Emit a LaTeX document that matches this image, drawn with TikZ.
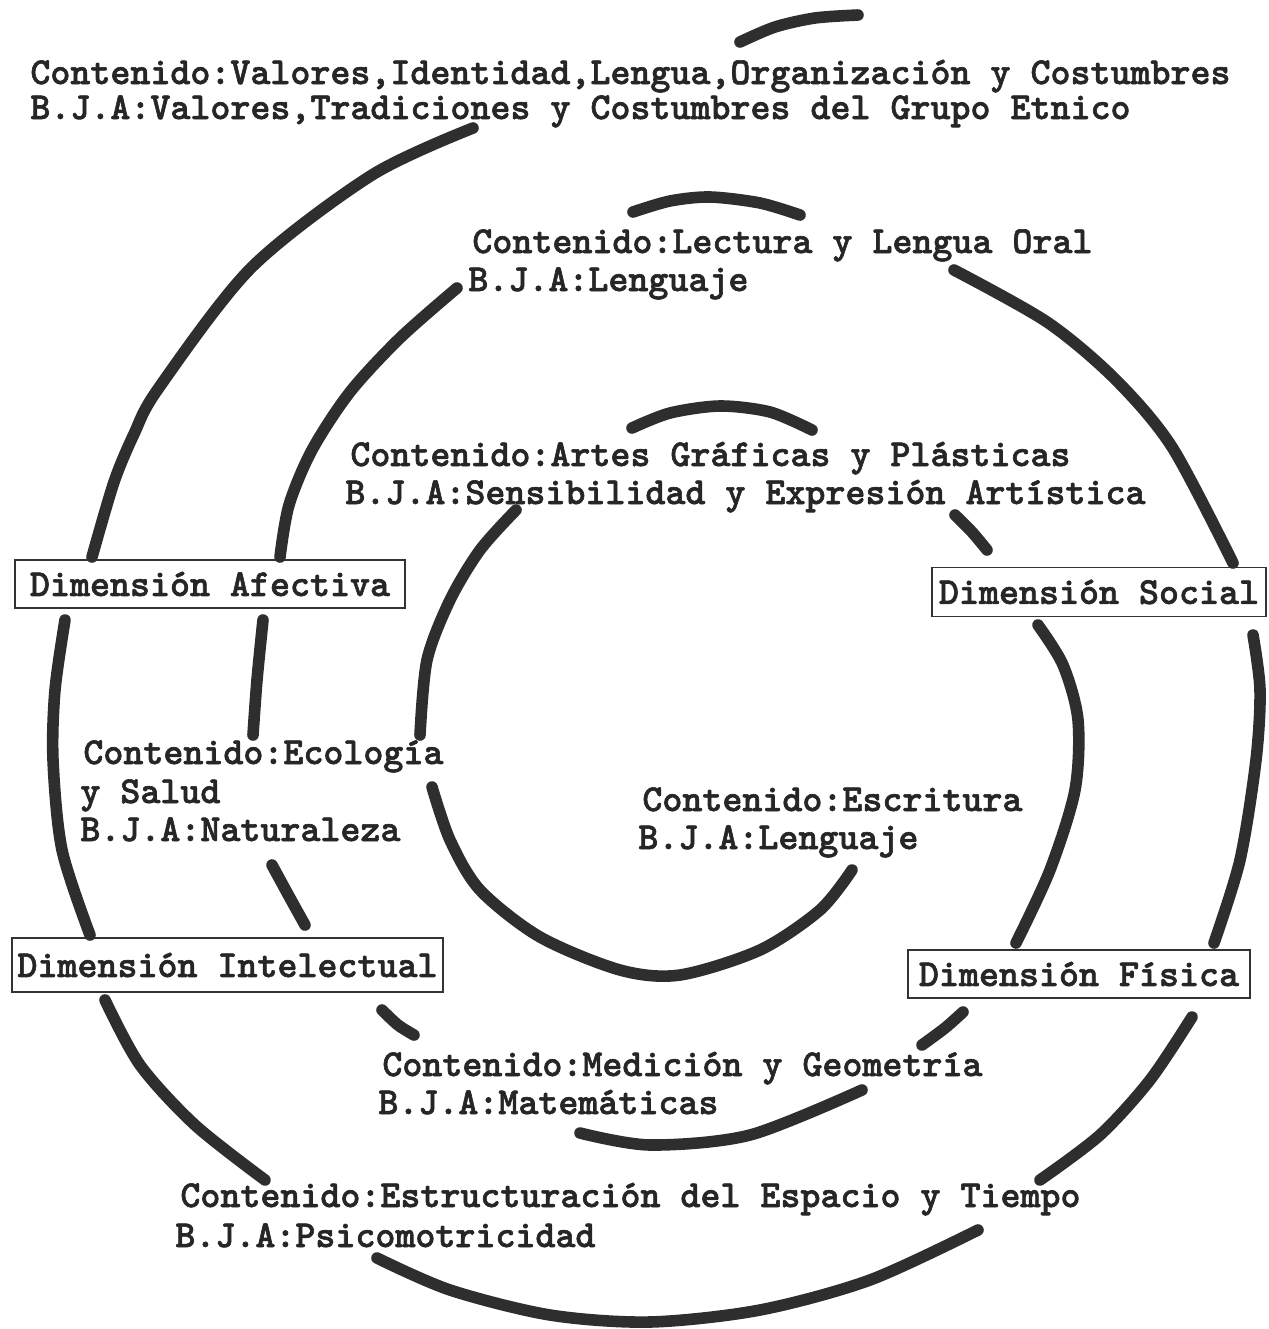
\documentclass[tikz,border=0pt]{standalone}
\usepackage{fontspec}
\newfontfamily\twfont{lmmonolt10-bold.otf}[FakeBold=1.6]
\definecolor{ink}{HTML}{262626}
\definecolor{strokec}{HTML}{2E2E2E}
\definecolor{boxc}{HTML}{333333}
\tikzset{
  txt/.style={anchor=base west, inner sep=0pt, text=ink,
    font=\twfont\fontsize{19.05pt}{20pt}\selectfont},
  dimbox/.style={draw=boxc, line width=0.8pt, inner sep=0pt, text=ink,
    font=\twfont\fontsize{19.05pt}{20pt}\selectfont},
  brush/.style={draw=strokec, line width=5.8pt, line cap=round, line join=round},
}
\begin{document}
\begin{tikzpicture}[x=0.5pt,y=-0.5pt]
\useasboundingbox (0,0) rectangle (1269,1329);

% ---- texts ----
\node[txt] (t1a) at (30,84)  {Contenido:Valores,Identidad,Lengua,Organización y Costumbres};
\node[txt] (t1b) at (30,119) {B.J.A:Valores,Tradiciones y Costumbres del Grupo Etnico};
\node[txt] (t2a) at (472,253) {Contenido:Lectura y Lengua Oral};
\node[txt] (t2b) at (468,291) {B.J.A:Lenguaje};
\node[txt] (t3a) at (350,466) {Contenido:Artes Gráficas y Plásticas};
\node[txt] (t3b) at (345,504) {B.J.A:Sensibilidad y Expresión Artística};
\node[txt] (t4a) at (83,764)  {Contenido:Ecología};
\node[txt] (t4b) at (80,803)  {y Salud};
\node[txt] (t4c) at (80,841)  {B.J.A:Naturaleza};
\node[txt] (t5a) at (642,811) {Contenido:Escritura};
\node[txt] (t5b) at (638,849) {B.J.A:Lenguaje};
\node[txt] (t6a) at (382,1076) {Contenido:Medición y Geometría};
\node[txt] (t6b) at (378,1114) {B.J.A:Matemáticas};
\node[txt] (t7a) at (180,1207) {Contenido:Estructuración del Espacio y Tiempo};
\node[txt] (t7b) at (175,1247) {B.J.A:Psicomotricidad};

% ---- dimension boxes ----
\node[dimbox, minimum width=195pt, minimum height=24pt] (afe) at (210,584) {Dimensión Afectiva};
\node[dimbox, minimum width=167pt, minimum height=24.5pt] (soc) at (1099,592) {Dimensión Social};
\node[dimbox, minimum width=215.5pt, minimum height=27pt] (int) at (227.5,965) {Dimensión Intelectual};
\node[dimbox, minimum width=171pt, minimum height=24pt] (fis) at (1079,974) {Dimensión Física};

% ---- outer spiral ----
\draw[brush] plot[smooth] coordinates {(740,42) (775,27) (815,18) (858,15)};
\draw[brush] plot[smooth] coordinates {(473,128) (372,175) (251,268) (158,389) (134,434) (114,482) (92,557)};
\draw[brush] plot[smooth] coordinates {(65,620) (55,690) (53,760) (62,850) (90,935)};
\draw[brush] plot[smooth] coordinates {(105,1000) (140,1065) (195,1125) (265,1180)};
\draw[brush] plot[smooth] coordinates {(377,1258) (450,1290) (550,1315) (650,1322) (760,1310) (870,1280) (978,1230)};
\draw[brush] plot[smooth] coordinates {(1040,1180) (1100,1135) (1150,1080) (1192,1017)};
\draw[brush] plot[smooth] coordinates {(1214,943) (1240,860) (1256,760) (1260,690) (1253,635)};
\draw[brush] plot[smooth] coordinates {(1233,563) (1172,447) (1115,379) (1047,322) (954,270)};

% ---- middle spiral ----
\draw[brush] plot[smooth] coordinates {(633,212) (670,201) (710,197) (760,203) (800,215)};
\draw[brush] plot[smooth] coordinates {(457,288) (400,338) (350,392) (312,450) (289,505) (280,557)};
\draw[brush] plot[smooth] coordinates {(263,620) (257,680) (253,735)};
\draw[brush] plot[smooth] coordinates {(272,865) (290,898) (305,925)};
\draw[brush] plot[smooth] coordinates {(382,1010) (398,1025) (414,1035)};
\draw[brush] plot[smooth] coordinates {(580,1133) (650,1145) (750,1135) (862,1090)};
\draw[brush] plot[smooth] coordinates {(922,1045) (945,1028) (963,1012)};
\draw[brush] plot[smooth] coordinates {(1016,943) (1050,870) (1075,790) (1078,720) (1063,665) (1038,625)};
\draw[brush] plot[smooth] coordinates {(955,515) (972,532) (987,550)};

% ---- inner spiral ----
\draw[brush] plot[smooth] coordinates {(632,428) (670,413) (720,406) (770,412) (812,430)};
\draw[brush] plot[smooth] coordinates {(516,510) (480,550) (450,600) (427,660) (420,735)};
\draw[brush] plot[smooth] coordinates {(432,787) (450,840) (480,890) (540,937) (620,970) (680,975) (760,950) (820,910) (852,870)};
\end{tikzpicture}
\end{document}
